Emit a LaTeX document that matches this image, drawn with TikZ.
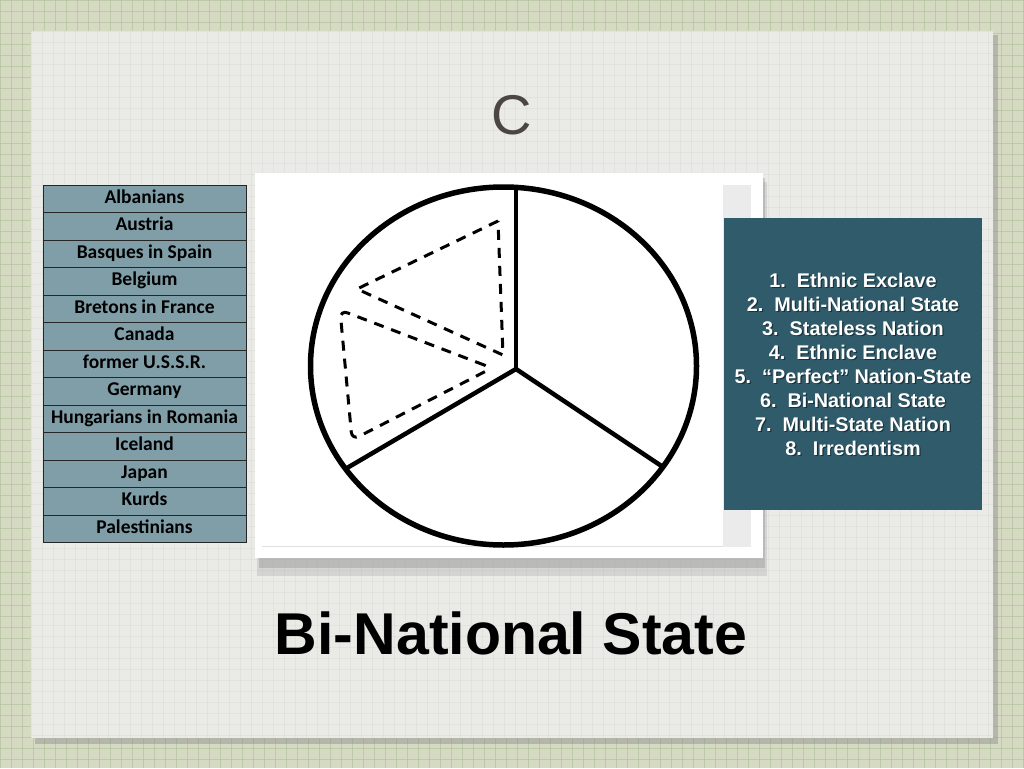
\documentclass[tikz,border=0pt]{standalone}
\usepackage{fontspec}
\setmainfont{Liberation Sans}
\newfontfamily\tablefont{Carlito}
\usetikzlibrary{positioning}
\definecolor{gridbase}{RGB}{214,218,194}
\definecolor{gridline}{RGB}{170,188,150}
\definecolor{paper}{RGB}{234,235,231}
\definecolor{rowfill}{RGB}{127,158,168}
\definecolor{legendfill}{RGB}{47,91,106}
\definecolor{titlegray}{RGB}{75,70,67}
\begin{document}
\begin{tikzpicture}[x=1pt,y=-1pt,
  row/.style={draw=black!85, line width=0.8pt, fill=rowfill, minimum width=203pt,
    minimum height=27.5pt, inner sep=0pt, text height=12.5pt, text depth=3.5pt,
    font=\tablefont\bfseries\fontsize{19.5}{19.5}\selectfont},
  slice/.style={line width=4.5pt},
  part/.style={dash pattern=on 10pt off 8pt, line width=3pt},
  legend/.style={text=white, anchor=base, inner sep=0pt,
    font=\bfseries\fontsize{19.8}{19.8}\selectfont},
  legendshade/.style={legend, text=black, opacity=0.45}]
\useasboundingbox (0,0) rectangle (1024,768);
% graph paper background
\fill[gridbase] (0,0) rectangle (1024,768);
\foreach \k in {0,11,...,1024}
  \draw[gridline, line width=0.9pt, opacity=0.55] (\k,0) -- (\k,768);
\foreach \k in {0,11,...,768}
  \draw[gridline, line width=0.9pt, opacity=0.55] (0,\k) -- (1024,\k);
% sheet
\fill[black!45, opacity=0.45] (35,35) rectangle (998,744);
\fill[paper] (31,31) rectangle (993,738);
\foreach \k in {31,42,...,993}
  \draw[black, line width=0.5pt, opacity=0.03] (\k,31) -- (\k,738);
\foreach \k in {31,42,...,738}
  \draw[black, line width=0.5pt, opacity=0.03] (31,\k) -- (993,\k);

\node[font=\fontsize{56}{56}\selectfont, text=titlegray] (title) at (512,115) {C};

% list of examples
\foreach \name [count=\i from 0] in {Albanians,Austria,Basques in Spain,Belgium,
    Bretons in France,Canada,former U.S.S.R.,Germany,Hungarians in Romania,
    Iceland,Japan,Kurds,Palestinians}
  \node[row] (row\i) at (144.5,198.75+27.5*\i) {\name};

% photo frame
\fill[black!50, opacity=0.2] (257,182) rectangle (767,576);
\fill[black!50, opacity=0.3] (259,178) rectangle (765,568);
\fill[white] (255,173) rectangle (763,558);
\fill[black!8] (723,185) rectangle (751,547);
\draw[black!12, line width=0.8pt] (262,546) -- (723,546);

% pie
\coordinate (hub) at (516,369);
\coordinate (top) at (516,187);
\coordinate (left) at (347,468);
\coordinate (right) at (663,467);
\draw[line width=5.5pt] (503.5,366) ellipse (193pt and 179pt);
\draw[slice] (hub) -- (top);
\draw[slice] (hub) -- (left);
\draw[slice] (hub) -- (right);
\draw[part] (498,221) -- (357,289) -- (503,355) -- cycle;
\draw[part, rounded corners=8pt] (492,368) -- (340,310) -- (352,440) -- cycle;

% answer list
\node[fill=legendfill, minimum width=258pt, minimum height=292pt] (legendbox) at (853,364) {};
\foreach \txt [count=\i from 0] in {1.\ \ Ethnic Exclave,2.\ \ Multi-National State,
    3.\ \ Stateless Nation,4.\ \ Ethnic Enclave,5.\ \ “Perfect” Nation-State,
    6.\ \ Bi-National State,7.\ \ Multi-State Nation,8.\ \ Irredentism}
  {\node[legendshade] at (854.2,288.2+24*\i) {\txt};
   \node[legend] (item\i) at (853,287+24*\i) {\txt};}

\node[font=\bfseries\fontsize{59}{59}\selectfont] (caption) at (511,633) {Bi-National State};
\end{tikzpicture}
\end{document}
